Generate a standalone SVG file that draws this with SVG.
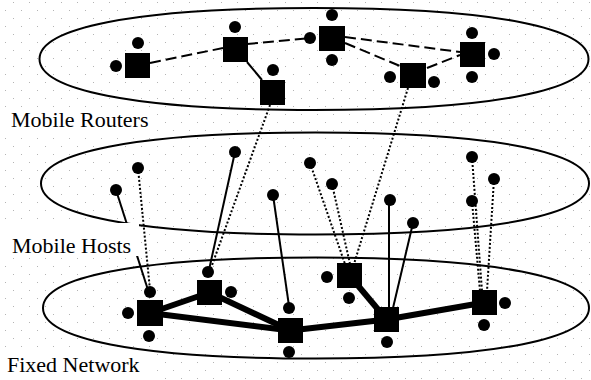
<svg xmlns="http://www.w3.org/2000/svg" width="591" height="380" viewBox="0 0 591 380">
<defs>
<pattern id="grid" width="16" height="16" patternUnits="userSpaceOnUse">
<rect x="13" y="2" width="1" height="1" fill="#b4b4b4"/>
<rect x="5" y="10" width="1" height="1" fill="#b4b4b4"/>
</pattern>
<style>
.layer{fill:none;stroke:#000;stroke-width:2}
.dash{stroke:#000;stroke-width:2;stroke-dasharray:11 5;fill:none}
.dot{stroke:#000;stroke-width:2;stroke-dasharray:2 2;fill:none}
.solid{stroke:#000;stroke-width:2;fill:none}
.thick{stroke:#000;stroke-width:6;fill:none}
.sq{fill:#000}
.port{fill:#000}
.box{fill:#fff}
.label{font-family:"Liberation Serif","Times New Roman",serif;font-size:22px;fill:#000}
</style>
</defs>
<rect width="591" height="380" fill="#fff"/>
<rect width="591" height="380" fill="url(#grid)"/>

<g id="layers">
<path id="layer-routers" class="layer" d="M39.5,59 C39.5,28.9 128.7,8 314,8 C499.3,8 588.5,28.9 588.5,59 C588.5,89.1 499.3,110 314,110 C128.7,110 39.5,89.1 39.5,59Z"/>
<path id="layer-hosts" class="layer" d="M41,183.5 C41,153.4 130.2,132.5 315.5,132.5 C500.8,132.5 589,153.4 589,183.5 C589,213.6 500.8,234.5 315.5,234.5 C130.2,234.5 41,213.6 41,183.5Z"/>
<path id="layer-fixed" class="layer" d="M43,308 C43,278.2 131.7,257.5 316,257.5 C500.3,257.5 589,278.2 589,308 C589,337.8 500.3,358.5 316,358.5 C131.7,358.5 43,337.8 43,308Z"/>
</g>

<g id="connectors">
<!-- mobile router links (dashed) -->
<line class="dash" x1="150" y1="63" x2="223" y2="48"/>
<line class="dash" x1="247" y1="44" x2="310" y2="38"/>
<line class="dash" x1="345" y1="37" x2="460" y2="52"/>
<line class="dash" x1="345" y1="43" x2="400" y2="66"/>
<line class="dash" x1="427" y1="68" x2="460" y2="55"/>
<line class="solid" x1="247" y1="62" x2="262" y2="80"/>
<!-- router to fixed network (dotted) -->
<line class="dot" x1="270" y1="105" x2="211" y2="268"/>
<line class="dot" x1="408" y1="88" x2="354" y2="264"/>
<!-- hosts to fixed network -->
<line class="solid" x1="116" y1="190" x2="148" y2="290"/>
<line class="dot" x1="138" y1="168" x2="150" y2="290"/>
<line class="solid" x1="235" y1="152" x2="209" y2="270"/>
<line class="solid" x1="273" y1="195" x2="289" y2="306"/>
<line class="dot" x1="310" y1="163" x2="345" y2="264"/>
<line class="dot" x1="332" y1="184" x2="350" y2="264"/>
<line class="solid" x1="389" y1="200" x2="389" y2="308"/>
<line class="solid" x1="413" y1="223" x2="393" y2="308"/>
<line class="dot" x1="472" y1="157" x2="482" y2="291"/>
<line class="dot" x1="472" y1="201" x2="480" y2="291"/>
<line class="dot" x1="494" y1="179" x2="487" y2="291"/>
<!-- fixed network (thick) -->
<line class="thick" x1="150" y1="313" x2="209.5" y2="292.5"/>
<line class="thick" x1="150" y1="313" x2="290.5" y2="330.5"/>
<line class="thick" x1="209.5" y1="292.5" x2="290.5" y2="330.5"/>
<line class="thick" x1="290.5" y1="330.5" x2="386.5" y2="319.5"/>
<line class="thick" x1="386.5" y1="319.5" x2="349.5" y2="275.5"/>
<line class="thick" x1="386.5" y1="319.5" x2="484.5" y2="302.5"/>
</g>

<g id="labels">
<rect class="box" x="0" y="107" width="155" height="25"/>
<text class="label" x="11" y="127">Mobile Routers</text>
<rect class="box" x="0" y="223" width="139" height="33"/>
<text class="label" x="12" y="253">Mobile Hosts</text>
<rect class="box" x="0" y="353" width="150" height="27"/>
<text class="label" x="7" y="372">Fixed Network</text>
</g>

<!-- mobile routers -->
<g id="router-a"><rect class="sq" x="125" y="53" width="25" height="25"/><circle class="port" cx="116" cy="66" r="6"/><circle class="port" cx="138" cy="43" r="6"/></g>
<g id="router-b"><rect class="sq" x="223" y="37" width="25" height="25"/><circle class="port" cx="235" cy="27" r="6"/></g>
<g id="router-c"><rect class="sq" x="260" y="80" width="25" height="25"/><circle class="port" cx="273" cy="70" r="6"/></g>
<g id="router-d"><rect class="sq" x="319" y="26" width="26" height="25"/><circle class="port" cx="310" cy="38" r="6"/><circle class="port" cx="332" cy="15" r="6"/><circle class="port" cx="332" cy="60" r="6"/></g>
<g id="router-e"><rect class="sq" x="400" y="63" width="26" height="25"/><circle class="port" cx="390" cy="77" r="6"/><circle class="port" cx="434" cy="82" r="6"/></g>
<g id="router-f"><rect class="sq" x="460" y="42" width="25" height="25"/><circle class="port" cx="472" cy="33" r="6"/><circle class="port" cx="494" cy="54" r="6"/><circle class="port" cx="472" cy="77" r="6"/></g>

<!-- mobile hosts -->
<g id="host-1"><circle class="port" cx="116" cy="190" r="6"/></g>
<g id="host-2"><circle class="port" cx="138" cy="168" r="6"/></g>
<g id="host-3"><circle class="port" cx="235" cy="152" r="6"/></g>
<g id="host-4"><circle class="port" cx="273" cy="195" r="6"/></g>
<g id="host-5"><circle class="port" cx="310" cy="163" r="6"/></g>
<g id="host-6"><circle class="port" cx="332" cy="184" r="6"/></g>
<g id="host-7"><circle class="port" cx="390" cy="200" r="6"/></g>
<g id="host-8"><circle class="port" cx="413" cy="223" r="6"/></g>
<g id="host-9"><circle class="port" cx="472" cy="157" r="6"/></g>
<g id="host-10"><circle class="port" cx="494" cy="179" r="6"/></g>
<g id="host-11"><circle class="port" cx="472" cy="201" r="6"/></g>

<!-- fixed network routers -->
<g id="fixed-k"><rect class="sq" x="137" y="300" width="26" height="26"/><circle class="port" cx="150" cy="292" r="6"/><circle class="port" cx="128" cy="313" r="6"/><circle class="port" cx="149" cy="336" r="6"/></g>
<g id="fixed-g"><rect class="sq" x="197" y="280" width="25" height="25"/><circle class="port" cx="208" cy="272" r="6"/><circle class="port" cx="231" cy="292" r="6"/></g>
<g id="fixed-l"><rect class="sq" x="278" y="318" width="25" height="25"/><circle class="port" cx="289" cy="308" r="6"/><circle class="port" cx="289" cy="352" r="6"/></g>
<g id="fixed-h"><rect class="sq" x="337" y="263" width="25" height="25"/><circle class="port" cx="327" cy="277" r="6"/><circle class="port" cx="349" cy="298" r="6"/></g>
<g id="fixed-i"><rect class="sq" x="374" y="307" width="25" height="25"/><circle class="port" cx="387" cy="342" r="6"/></g>
<g id="fixed-j"><rect class="sq" x="472" y="290" width="25" height="25"/><circle class="port" cx="505" cy="303" r="6"/><circle class="port" cx="484" cy="325" r="6"/></g>
</svg>
